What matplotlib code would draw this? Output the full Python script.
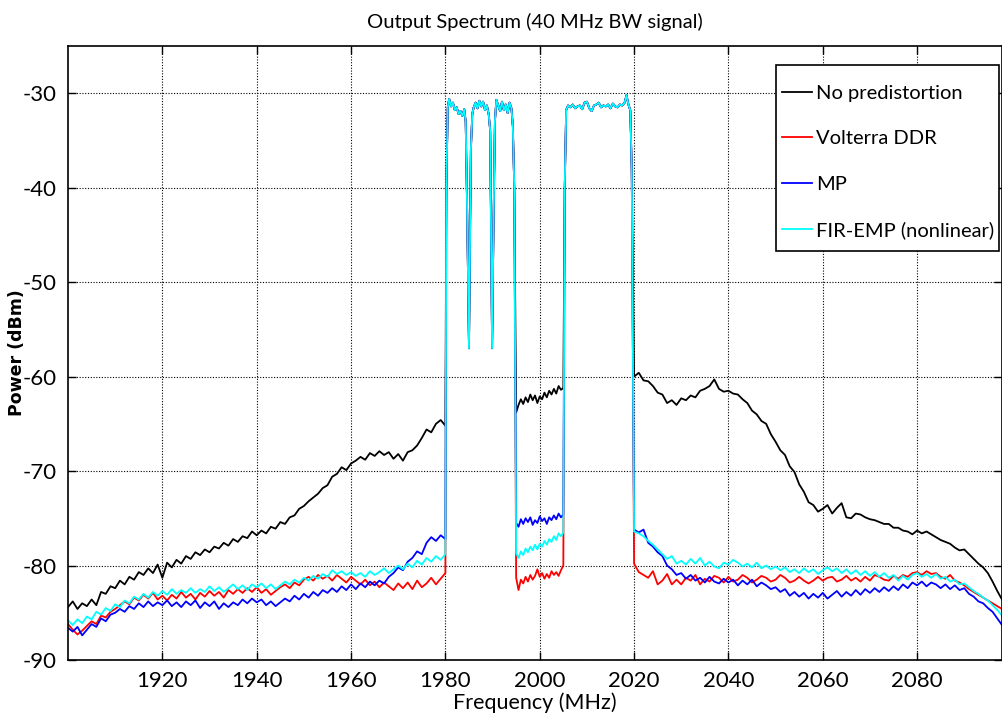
import numpy as np
import matplotlib
matplotlib.use("Agg")
import matplotlib.pyplot as plt
from matplotlib.patches import Rectangle

plt.rcParams["axes.unicode_minus"] = False

# ---------------- data ----------------
f_low = list(range(1900, 1981))          # lower out-of-band, MHz
f_high = list(range(2020, 2099))         # upper out-of-band, MHz
f_gap = [1995.0 + 0.5 * i for i in range(21)]  # gap between carriers

# in-band (shared by all four traces)
f_band1 = [1980.2, 1980.5, 1980.8, 1981.2, 1981.6, 1982.0, 1982.4, 1982.8, 1983.2, 1983.6,
           1984.0, 1984.3, 1984.6, 1985.0, 1985.4, 1985.7, 1986.0, 1986.4, 1986.8, 1987.2,
           1987.6, 1988.0, 1988.4, 1988.8, 1989.2, 1989.5, 1989.7, 1989.9, 1990.2, 1990.5,
           1990.8, 1991.2, 1991.6, 1992.0, 1992.4, 1992.8, 1993.2, 1993.6, 1994.0, 1994.3, 1994.6]
p_band1 = [-40.0, -31.5, -30.6, -31.4, -31.0, -31.8, -31.5, -32.2, -31.9, -32.4,
           -31.7, -33.0, -42.0, -57.0, -36.0, -32.2, -31.5, -31.0, -31.6, -30.8,
           -31.4, -30.9, -31.8, -31.3, -32.3, -34.0, -45.0, -57.0, -44.0, -33.0,
           -30.7, -31.3, -31.9, -30.9, -31.8, -31.2, -32.1, -31.0, -31.6, -33.5, -40.0]
f_band2 = [2005.3, 2005.6, 2006.0, 2006.5, 2007.0, 2007.5, 2008.0, 2008.5, 2009.0, 2009.5,
           2010.0, 2010.5, 2011.0, 2011.5, 2012.0, 2012.5, 2013.0, 2013.5, 2014.0, 2014.5,
           2015.0, 2015.5, 2016.0, 2016.5, 2017.0, 2017.5, 2018.0, 2018.4, 2018.8, 2019.2, 2019.5]
p_band2 = [-40.0, -31.8, -31.3, -31.5, -31.2, -31.6, -31.4, -31.3, -31.7, -31.0,
           -30.9, -31.6, -31.9, -31.3, -31.2, -31.0, -31.5, -31.3, -31.4, -31.2,
           -31.6, -31.1, -31.4, -31.5, -31.2, -31.3, -31.0, -30.2, -31.2, -31.8, -38.0]

# No predistortion (black)
black_low = [-84.4, -83.8, -84.6, -84.0, -84.3, -83.6, -84.2, -82.8, -83.0, -82.2,
             -82.4, -81.6, -82.0, -81.2, -81.5, -80.7, -81.0, -80.3, -80.8, -79.9,
             -81.3, -79.7, -80.2, -79.4, -79.8, -79.0, -79.3, -78.6, -78.9, -78.3,
             -78.6, -78.0, -78.2, -77.6, -77.9, -77.2, -77.5, -76.9, -77.1, -76.4,
             -76.8, -76.3, -76.6, -75.9, -76.1, -75.4, -75.6, -74.9, -74.7, -74.0,
             -73.7, -73.2, -72.8, -72.4, -71.8, -71.5, -70.6, -70.3, -69.6, -69.9,
             -69.2, -68.9, -68.5, -68.8, -68.1, -68.4, -67.9, -68.3, -68.0, -68.7,
             -68.2, -68.9, -68.0, -67.8, -67.3, -66.5, -65.6, -65.9, -65.0, -64.6, -65.2]
black_gap = [-63.8, -63.0, -62.4, -62.9, -62.2, -62.7, -61.9, -62.5, -62.0, -62.8, -62.1,
             -62.4, -61.7, -62.2, -61.5, -61.9, -61.3, -61.8, -61.0, -61.4, -61.2]
black_high = [-60.0, -59.6, -60.4, -60.5, -61.0, -61.7, -61.9, -62.8, -62.5, -63.0,
              -62.3, -62.5, -62.0, -62.2, -61.5, -61.3, -61.0, -60.3, -61.3, -61.6,
              -61.5, -61.8, -61.9, -62.4, -62.8, -63.6, -64.0, -64.7, -65.0, -66.1,
              -66.9, -67.8, -68.3, -69.5, -70.1, -71.4, -72.2, -73.3, -73.6, -74.3,
              -74.0, -73.6, -74.5, -73.9, -73.4, -74.9, -75.0, -74.5, -74.6, -74.9,
              -75.1, -75.2, -75.4, -75.6, -75.6, -76.0, -76.0, -76.3, -76.4, -76.7,
              -76.3, -76.6, -76.4, -76.7, -77.0, -77.3, -77.5, -77.7, -78.1, -78.4,
              -78.3, -78.8, -79.3, -79.8, -80.2, -80.8, -81.7, -82.7, -83.6]

# Volterra DDR (red)
red_low = [-86.2, -86.8, -87.3, -86.9, -86.4, -85.9, -86.2, -85.3, -85.5, -84.9,
           -84.6, -84.2, -83.8, -84.1, -83.4, -83.7, -83.1, -83.5, -82.9, -83.6,
           -83.2, -83.7, -83.1, -83.5, -82.8, -83.4, -83.0, -83.6, -82.9, -83.3,
           -82.7, -83.2, -82.8, -83.4, -82.6, -83.0, -82.5, -82.9, -82.4, -82.8,
           -82.3, -82.9, -82.5, -83.1, -82.7, -82.3, -82.0, -82.4, -81.8, -82.1,
           -81.5, -81.2, -81.6, -81.0, -81.4, -81.1, -81.6, -81.0, -81.4, -81.8,
           -81.2, -81.6, -82.0, -81.5, -82.1, -81.7, -82.3, -81.8, -82.2, -82.6,
           -81.9, -82.4, -81.8, -82.5, -81.6, -82.3, -81.9, -81.3, -82.0, -81.4, -80.8]
red_gap = [-81.3, -82.6, -81.5, -81.9, -81.2, -81.7, -81.0, -81.5, -81.1, -80.4, -81.2,
           -80.8, -81.4, -80.9, -81.3, -80.6, -81.0, -80.7, -81.1, -80.5, -80.0]
red_high = [-79.8, -80.7, -81.0, -81.3, -80.6, -82.0, -81.6, -80.9, -82.0, -81.5,
            -82.0, -81.3, -81.6, -81.0, -82.0, -81.4, -81.7, -81.1, -81.3, -81.8,
            -81.2, -81.7, -81.5, -81.0, -81.3, -81.8, -81.5, -81.1, -81.3, -81.7,
            -81.5, -81.0, -81.3, -81.8, -81.6, -81.2, -81.6, -81.9, -81.6, -81.2,
            -81.6, -81.3, -81.2, -81.7, -81.5, -81.1, -81.6, -81.3, -81.7, -81.2,
            -81.6, -81.0, -81.2, -81.5, -81.6, -81.1, -81.4, -81.0, -81.2, -80.8,
            -80.7, -81.0, -80.6, -80.9, -80.8, -81.2, -81.4, -81.0, -81.6, -81.8,
            -82.1, -82.5, -82.8, -83.1, -83.4, -83.7, -84.0, -84.3, -84.6]

# MP (blue)
blue_low = [-86.6, -87.0, -86.5, -87.4, -86.8, -86.2, -86.5, -85.6, -85.9, -85.2,
            -85.0, -84.6, -84.9, -84.3, -84.6, -84.0, -84.4, -83.8, -84.3, -83.9,
            -84.2, -83.7, -84.3, -83.9, -84.4, -83.8, -84.2, -83.7, -84.5, -83.9,
            -84.3, -83.8, -84.6, -84.0, -84.4, -83.9, -84.2, -83.6, -84.0, -83.5,
            -83.9, -83.6, -84.2, -83.8, -84.3, -83.9, -83.5, -83.8, -83.2, -83.6,
            -83.0, -83.4, -82.8, -83.2, -82.6, -82.9, -82.4, -82.8, -82.2, -82.6,
            -82.0, -82.5, -81.9, -82.3, -81.7, -82.1, -81.6, -81.9, -81.2, -80.8,
            -80.2, -80.5, -79.6, -79.2, -78.5, -78.8, -77.6, -77.0, -77.4, -76.8, -77.2]
blue_gap = [-75.5, -75.9, -75.1, -75.6, -75.0, -75.4, -74.9, -75.7, -75.2, -75.5, -74.8,
            -75.3, -75.0, -75.6, -74.9, -75.2, -74.7, -75.1, -74.5, -74.9, -74.6]
blue_high = [-76.2, -76.5, -76.2, -77.6, -78.0, -78.6, -79.0, -80.0, -80.4, -81.0,
             -80.8, -81.4, -81.0, -81.6, -81.3, -81.8, -81.2, -81.7, -81.9, -81.4,
             -81.8, -81.5, -82.1, -81.6, -82.0, -81.5, -82.2, -81.8, -82.1, -82.5,
             -82.3, -82.8, -82.5, -83.2, -82.8, -83.3, -82.9, -83.5, -83.0, -83.4,
             -82.9, -83.5, -83.1, -82.7, -83.3, -82.8, -83.2, -82.6, -83.1, -82.5,
             -82.9, -82.4, -82.8, -82.3, -82.7, -82.2, -82.6, -82.0, -82.4, -81.8,
             -82.1, -81.7, -82.2, -81.8, -82.0, -82.4, -82.0, -82.5, -82.1, -82.6,
             -82.4, -83.0, -83.3, -83.8, -84.0, -84.5, -84.9, -85.6, -86.3]

# FIR-EMP (nonlinear) (cyan)
cyan_low = [-85.8, -86.3, -85.7, -86.1, -85.4, -85.7, -84.9, -85.2, -84.5, -84.8,
            -84.1, -84.4, -83.7, -84.0, -83.3, -83.6, -83.0, -83.4, -82.8, -83.2,
            -82.7, -83.1, -82.5, -83.0, -82.6, -82.9, -82.4, -82.9, -82.5, -82.8,
            -82.2, -82.7, -82.3, -82.8, -82.4, -82.0, -82.5, -82.1, -82.6, -82.0,
            -82.3, -81.9, -82.4, -82.0, -82.5, -82.1, -81.7, -82.0, -81.5, -81.8,
            -81.3, -81.6, -81.1, -81.4, -80.9, -81.2, -80.5, -80.9, -80.6, -81.0,
            -80.7, -81.1, -80.8, -81.2, -80.6, -81.0, -80.7, -80.3, -80.8, -80.4,
            -80.0, -80.4, -79.8, -80.2, -79.5, -79.9, -79.2, -79.6, -79.0, -79.4, -78.8]
cyan_gap = [-78.7, -79.2, -78.5, -78.9, -78.2, -78.6, -78.0, -78.4, -77.8, -78.3, -77.7,
            -78.0, -77.4, -77.8, -77.2, -77.5, -76.9, -77.3, -76.6, -76.9, -76.5]
cyan_high = [-76.4, -76.6, -76.9, -77.4, -77.8, -78.3, -78.8, -79.3, -79.0, -79.8,
             -79.5, -79.9, -79.3, -79.8, -79.2, -80.0, -79.6, -80.1, -80.3, -79.7,
             -79.9, -79.4, -79.7, -80.1, -79.8, -80.2, -79.7, -80.3, -80.0, -80.4,
             -80.1, -80.5, -80.2, -80.7, -80.4, -80.8, -80.3, -80.7, -80.4, -80.9,
             -80.5, -80.2, -80.6, -80.3, -80.8, -80.4, -80.9, -80.5, -81.0, -80.6,
             -81.1, -80.7, -81.2, -80.8, -81.3, -81.0, -81.6, -81.1, -81.5, -81.0,
             -80.8, -81.2, -80.9, -81.3, -80.9, -81.4, -81.2, -81.7, -81.5, -82.0,
             -81.9, -82.3, -82.7, -83.0, -83.4, -83.7, -84.2, -84.7, -85.3]

labels = ["No predistortion", "Volterra DDR", "MP", "FIR-EMP (nonlinear)"]
colors = ["#000000", "#ff0000", "#0000ff", "#00ffff"]
series = [(black_low, black_gap, black_high),
          (red_low, red_gap, red_high),
          (blue_low, blue_gap, blue_high),
          (cyan_low, cyan_gap, cyan_high)]

x_ticks = [1920, 1940, 1960, 1980, 2000, 2020, 2040, 2060, 2080]
y_ticks = [-90, -80, -70, -60, -50, -40, -30]

# ---------------- plot ----------------
fig = plt.figure(figsize=(10.02, 7.25), dpi=100)
ax = fig.add_axes([0.0679, 0.0897, 0.9321, 0.8469])

freq = f_low + f_band1 + f_gap + f_band2 + f_high
for (lo, gp, hi), c, lab in zip(series, colors, labels):
    p = lo + p_band1 + gp + p_band2 + hi
    ax.plot(freq, p, color=c, lw=1.3, label=lab)

ax.set_xlim(1900, 2098)
ax.set_ylim(-90, -25)
ax.set_xticks(x_ticks)
ax.set_yticks(y_ticks)
ax.grid(True, color="black", linestyle=(0, (1, 1.5)), linewidth=0.8)
ax.tick_params(direction="in", length=6, top=True, right=True, labelsize=16, width=1)
ax.tick_params(axis="x", pad=8)
ax.tick_params(axis="y", pad=8)
for lab in ax.get_xticklabels() + ax.get_yticklabels():
    lab.set_family("Lato")
for s in ax.spines.values():
    s.set_linewidth(1.2)

ax.set_title("Output Spectrum (40 MHz BW signal)", fontsize=14.5, family="Lato", pad=13)
ax.set_xlabel("Frequency (MHz)", fontsize=15.5, family="Lato", labelpad=1)
ax.set_ylabel("Power (dBm)", fontsize=12.5, family="DejaVu Sans", fontweight="bold")
ax.yaxis.set_label_coords(-0.045, 0.5)

# legend box (MATLAB style) drawn as a white rectangle, entries without frame
box = Rectangle((0.758, 0.666), 0.9968 - 0.758, 0.969 - 0.666, transform=ax.transAxes,
                facecolor="white", edgecolor="black", linewidth=1.2, zorder=5)
ax.add_patch(box)
leg = ax.legend(loc="upper left", bbox_to_anchor=(0.7645, 0.937), borderaxespad=0,
                prop={"family": "Lato", "size": 14.5}, frameon=False,
                handlelength=1.49, handletextpad=0.2,
                labelspacing=1.41, borderpad=0)
leg.set_zorder(6)

fig.savefig("out.png", dpi=100)
